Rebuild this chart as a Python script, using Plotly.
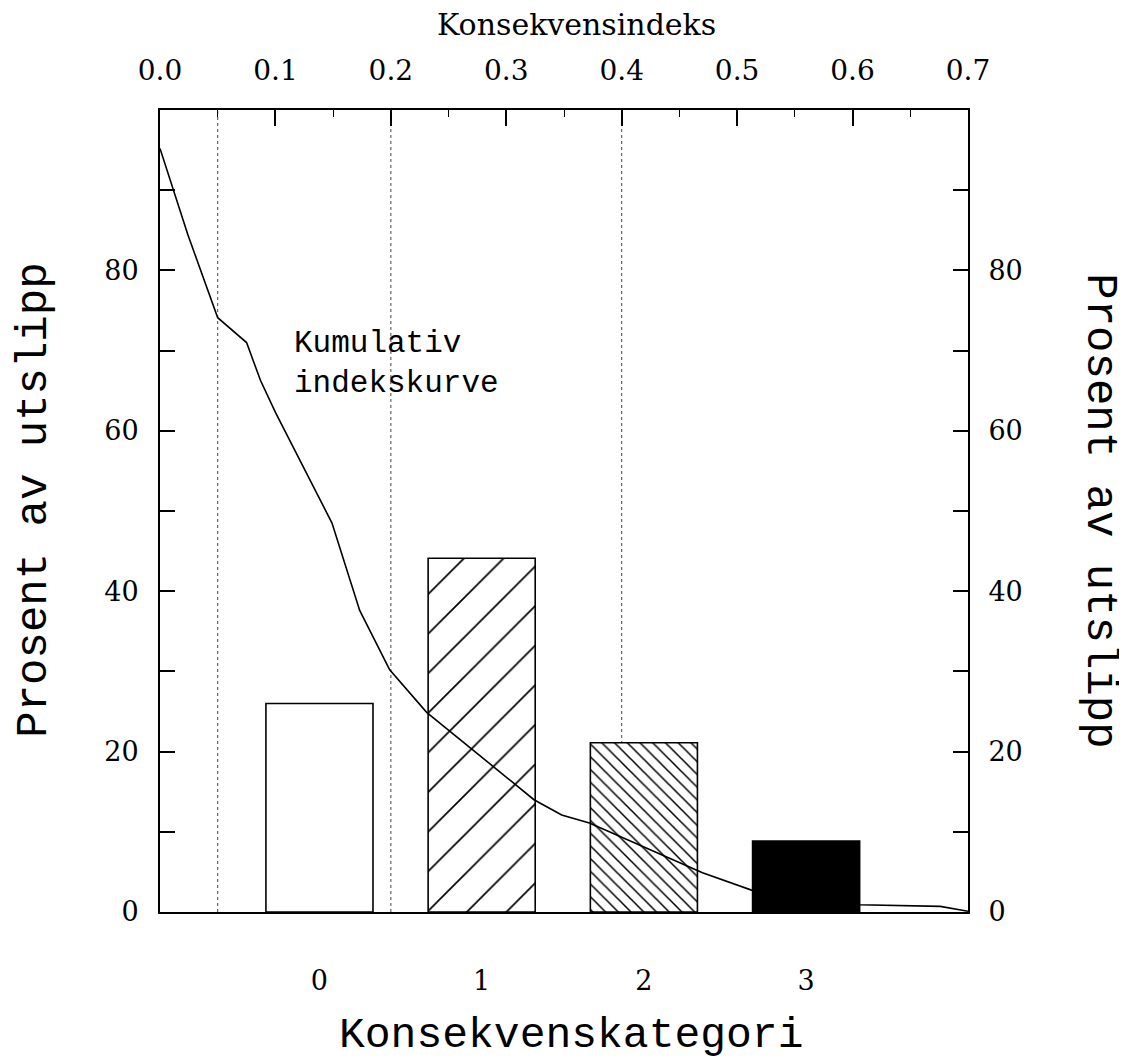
import plotly.graph_objects as go

# ---- data ----
categories = [0, 1, 2, 3]
category_labels = ["0", "1", "2", "3"]
bar_values = [26.0, 44.1, 21.1, 8.85]

curve_index = [0.0, 0.024, 0.050, 0.075, 0.087, 0.100, 0.149, 0.173, 0.199, 0.231,
               0.324, 0.348, 0.372, 0.450, 0.470, 0.513, 0.606, 0.676, 0.700]
curve_percent = [95.2, 84.5, 74.1, 71.0, 66.3, 62.3, 48.5, 37.6, 30.2, 24.9,
                 14.0, 12.1, 11.1, 6.2, 4.9, 2.7, 0.9, 0.7, 0.1]

thresholds = [0.05, 0.2, 0.4]

top_ticks = [0.0, 0.1, 0.2, 0.3, 0.4, 0.5, 0.6, 0.7]
top_ticktext = ["0.0", "0.1", "0.2", "0.3", "0.4", "0.5", "0.6", "0.7"]
y_ticks = [0, 10, 20, 30, 40, 50, 60, 70, 80, 90]
y_ticktext = ["0", "", "20", "", "40", "", "60", "", "80", ""]

SERIF = "DejaVu Serif"
MONO = "Liberation Mono"

INDEX_RANGE = [0, 0.7]
CAT_RANGE = [-0.983, 3.998]

fig = go.Figure()

# layer 1: dotted threshold lines (index axis)
for t in thresholds:
    fig.add_trace(go.Scatter(x=[t, t], y=[0, 100], mode="lines", xaxis="x", yaxis="y",
                             line=dict(color="#444", width=1, dash="dot"),
                             showlegend=False, hoverinfo="skip"))

# layer 2: bars 0-2 (category axis)
bar_styles = [
    dict(color="white"),
    dict(color="black", pattern=dict(shape="/", size=28, solidity=0.06, fillmode="replace")),
    dict(color="black", pattern=dict(shape="\\", size=9, solidity=0.17, fillmode="replace",
                                     bgcolor="white")),
    dict(color="black"),
]
for cat, val, st in list(zip(categories, bar_values, bar_styles))[:3]:
    fig.add_trace(go.Bar(
        x=[cat], y=[val], xaxis="x2", yaxis="y2", width=0.66,
        marker=dict(line=dict(color="black", width=1.6), **st),
        showlegend=False))

# layer 3: cumulative curve (index axis overlay)
fig.add_trace(go.Scatter(x=curve_index, y=curve_percent, mode="lines", xaxis="x3", yaxis="y",
                         line=dict(color="black", width=1.6), showlegend=False))

# layer 4: bar 3 (solid, hides the curve)
fig.add_trace(go.Bar(
    x=[categories[3]], y=[bar_values[3]], xaxis="x4", yaxis="y2", width=0.66,
    marker=dict(line=dict(color="black", width=1.6), **bar_styles[3]),
    showlegend=False))

axis_common = dict(showgrid=False, zeroline=False, showline=True, linecolor="black",
                   linewidth=2, automargin=False)
hidden = dict(showgrid=False, zeroline=False, showline=False, showticklabels=False,
              ticks="", automargin=False)

fig.update_layout(
    width=1119, height=1055,
    margin=dict(l=152, r=159, t=102, b=151, autoexpand=False),
    paper_bgcolor="white", plot_bgcolor="white",
    font=dict(family=SERIF, color="black"),
    barmode="overlay",
    xaxis=dict(side="top", range=INDEX_RANGE, tickvals=top_ticks, ticktext=top_ticktext,
               ticks="inside", ticklen=16, tickwidth=1.5, tickcolor="black",
               minor=dict(dtick=0.05, ticks="inside", ticklen=7, tickwidth=1.2, tickcolor="black"),
               tickfont=dict(size=28, family=SERIF), ticklabelstandoff=17, **axis_common),
    xaxis2=dict(overlaying="x", side="bottom", range=CAT_RANGE, tickvals=categories,
                ticktext=category_labels, ticks="",
                tickfont=dict(size=27, family=SERIF), ticklabelstandoff=44, **axis_common),
    xaxis3=dict(overlaying="x", range=INDEX_RANGE, **hidden),
    xaxis4=dict(overlaying="x", range=CAT_RANGE, **hidden),
    yaxis=dict(range=[0, 100], tickvals=y_ticks, ticktext=y_ticktext, side="left",
               ticks="inside", ticklen=15, tickwidth=1.5, tickcolor="black",
               tickfont=dict(size=27, family=SERIF), ticklabelstandoff=14, **axis_common),
    yaxis2=dict(overlaying="y", side="right", range=[0, 100], tickvals=y_ticks, ticktext=y_ticktext,
                ticks="inside", ticklen=15, tickwidth=1.5, tickcolor="black",
                tickfont=dict(size=27, family=SERIF), ticklabelstandoff=13, **axis_common),
)

annotations = [
    dict(text="Konsekvensindeks", xref="paper", yref="paper", x=0.516, y=1.106,
         showarrow=False, font=dict(size=30, family=SERIF), xanchor="center", yanchor="middle"),
    dict(text="Konsekvenskategori", xref="paper", yref="paper", x=0.509, y=-0.154,
         showarrow=False, font=dict(size=43, family=MONO), xanchor="center", yanchor="middle"),
    dict(text="Prosent av utslipp", xref="paper", yref="paper", x=-0.157, y=0.513,
         showarrow=False, textangle=-90, font=dict(size=44, family=MONO),
         xanchor="center", yanchor="middle"),
    dict(text="Prosent av utslipp", xref="paper", yref="paper", x=1.163, y=0.5,
         showarrow=False, textangle=90, font=dict(size=44, family=MONO),
         xanchor="center", yanchor="middle"),
    dict(text="Kumulativ<br>indekskurve", xref="x", yref="y", x=0.1144, y=68.4,
         showarrow=False, align="left", font=dict(size=31, family=MONO),
         xanchor="left", yanchor="middle"),
]
fig.update_layout(annotations=annotations)

fig.write_html("out.html")
